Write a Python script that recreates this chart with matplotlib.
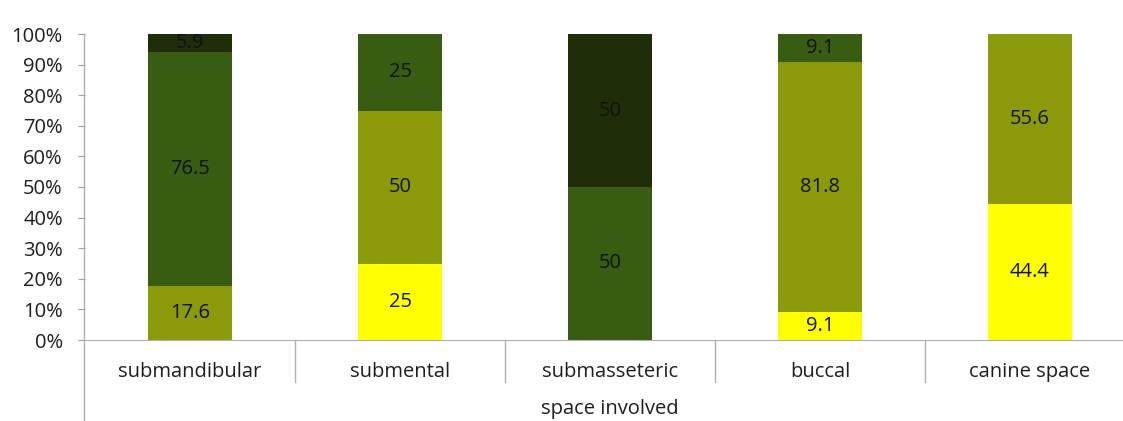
import matplotlib
matplotlib.use("Agg")
import matplotlib.pyplot as plt
from matplotlib.lines import Line2D
import numpy as np

categories = ["submandibular", "submental", "submasseteric", "buccal", "canine space"]
s_yellow = [0, 25, 0, 9.1, 44.4]
s_olive = [17.6, 50, 0, 81.8, 55.6]
s_green = [76.5, 25, 50, 9.1, 0]
s_dark = [5.9, 0, 50, 0, 0]
y_ticks = [0, 10, 20, 30, 40, 50, 60, 70, 80, 90, 100]
x_title = "space involved"

series = [s_yellow, s_olive, s_green, s_dark]
colors = ["#FFFF00", "#8A9A0A", "#385D12", "#1F2E08"]

plt.rcParams['font.family'] = ['Open Sans', 'DejaVu Sans']
FS = 14.5
TXT = '#1e1e1e'

W, H = 1123, 421
fig = plt.figure(figsize=(W/100, H/100), dpi=100)
left_px, right_px, top_px, bot_px = 85, 1135, 34, 340
ax = fig.add_axes([left_px/W, 1 - bot_px/H, (right_px-left_px)/W, (bot_px-top_px)/H])

x = np.arange(len(categories))
bottom = np.zeros(len(categories))
for vals, c in zip(series, colors):
    v = np.array(vals, dtype=float)
    ax.bar(x, v, 0.4, bottom=bottom, color=c, edgecolor='none', zorder=2)
    for xi, b, val in zip(x, bottom, v):
        if val > 0:
            ax.text(xi, b + val/2, f"{val:g}", ha='center', va='center',
                    fontsize=FS, color='#111111', zorder=3)
    bottom += v

ax.set_xlim(-0.5, len(categories) - 0.5)
ax.set_ylim(0, 100)
ax.set_yticks(y_ticks)
ax.set_yticklabels([f"{t}%" for t in y_ticks], fontsize=FS, color=TXT)
ax.tick_params(axis='y', direction='out', length=5, color='#A0A0A0', pad=11)
ax.set_xticks(x)
ax.set_xticklabels(categories, fontsize=FS, color=TXT)
ax.tick_params(axis='x', length=0, pad=16)
for s in ['top', 'right', 'left']:
    ax.spines[s].set_visible(False)
ax.spines['bottom'].set_color('#B0B0B0')

# category separators
for k in range(1, len(categories) + 1):
    xf = (left_px + 210*k) / W
    fig.add_artist(Line2D([xf, xf], [1 - bot_px/H, 1 - 382/H], color='#B0B0B0', lw=1))
# extended y axis line
xf = 84/W
fig.add_artist(Line2D([xf, xf], [0, 1 - top_px/H], color='#B0B0B0', lw=1))

fig.text((left_px + 525)/W, 1 - 409/H, x_title, ha='center', va='center',
         fontsize=FS, color=TXT)

fig.savefig("out.png", dpi=100)
